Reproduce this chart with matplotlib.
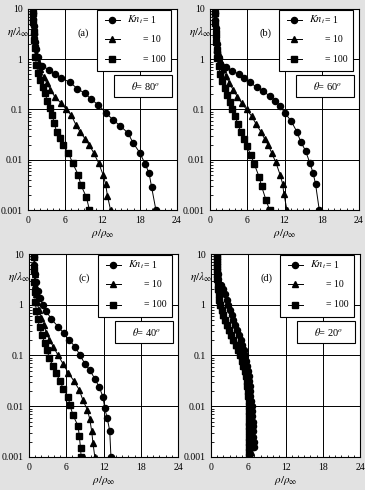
import matplotlib
matplotlib.use("Agg")
import matplotlib.pyplot as plt
from matplotlib.patches import Rectangle
from matplotlib.ticker import FixedLocator, MultipleLocator, LogLocator, NullFormatter

plt.rcParams['font.family'] = ['Liberation Serif', 'DejaVu Serif']
plt.rcParams['mathtext.fontset'] = 'stix'

# --- data: eta/lambda (y) and rho/rho_inf (x) ---
# (a) theta = 80
eta_a1 = [8.3, 6.3, 4.5, 3.2, 2.2, 1.6, 1.12, 0.74, 0.62, 0.50, 0.42, 0.35, 0.26, 0.21, 0.16,
          0.123, 0.085, 0.062, 0.048, 0.034, 0.022, 0.0138, 0.0081, 0.0054, 0.0029, 0.001]
rho_a1 = [0.85, 0.87, 0.9, 0.95, 1.05, 1.25, 1.6, 2.26, 3.39, 4.41, 5.38, 6.72, 7.96, 9.14, 10.2,
          11.3, 12.6, 13.7, 14.8, 16.1, 16.9, 18.0, 18.9, 19.5, 19.9, 20.6]
eta_a2 = [8.3, 5.6, 3.5, 2.5, 1.8, 1.26, 0.85, 0.63, 0.45, 0.34, 0.25, 0.18, 0.135, 0.1, 0.076,
          0.05, 0.036, 0.026, 0.0195, 0.0135, 0.0085, 0.005, 0.0033, 0.0019, 0.001]
rho_a2 = [0.85, 0.87, 0.92, 1.0, 1.15, 1.35, 1.7, 2.0, 2.5, 3.0, 3.6, 4.3, 5.3, 6.2, 7.0,
          7.7, 8.4, 9.2, 9.9, 10.6, 11.4, 12.1, 12.5, 12.8, 13.3]
eta_a3 = [8.3, 5.6, 3.5, 2.4, 1.7, 1.12, 0.76, 0.54, 0.38, 0.28, 0.21, 0.15, 0.107, 0.079, 0.055,
          0.036, 0.0275, 0.0195, 0.0138, 0.0085, 0.005, 0.0032, 0.0018, 0.001]
rho_a3 = [0.85, 0.86, 0.9, 0.95, 1.05, 1.2, 1.35, 1.6, 2.0, 2.35, 2.75, 3.1, 3.5, 3.9, 4.2,
          4.6, 5.2, 5.6, 6.5, 7.2, 8.1, 8.5, 9.4, 9.9]

# (b) theta = 60
eta_b1 = [8.3, 6.0, 4.2, 2.8, 2.0, 1.4, 1.07, 0.81, 0.69, 0.59, 0.51, 0.42, 0.35, 0.275, 0.23,
          0.186, 0.15, 0.115, 0.085, 0.058, 0.036, 0.023, 0.015, 0.0085, 0.0055, 0.0033, 0.001]
rho_b1 = [0.85, 0.87, 0.9, 0.97, 1.05, 1.2, 1.4, 1.6, 2.6, 3.5, 4.6, 5.5, 6.45, 7.5, 8.6,
          9.6, 10.5, 11.3, 12.1, 13.1, 14.0, 14.6, 15.4, 16.1, 16.6, 17.0, 17.6]
eta_b2 = [8.3, 5.6, 3.5, 2.5, 1.8, 1.26, 0.89, 0.63, 0.46, 0.34, 0.25, 0.18, 0.135, 0.1, 0.074,
          0.052, 0.036, 0.026, 0.0195, 0.0135, 0.0089, 0.005, 0.0033, 0.0021, 0.001]
rho_b2 = [0.85, 0.87, 0.92, 1.0, 1.15, 1.4, 1.7, 2.1, 2.6, 3.1, 3.7, 4.4, 5.1, 5.9, 6.7,
          7.4, 8.2, 8.8, 9.4, 9.95, 10.6, 11.3, 11.7, 11.9, 12.4]
eta_b3 = [8.3, 5.2, 3.3, 2.2, 1.5, 1.05, 0.74, 0.52, 0.37, 0.27, 0.19, 0.138, 0.1, 0.074, 0.052,
          0.036, 0.026, 0.019, 0.0123, 0.0081, 0.0046, 0.003, 0.0016, 0.001]
rho_b3 = [0.85, 0.86, 0.9, 0.95, 1.05, 1.2, 1.4, 1.65, 2.0, 2.4, 2.8, 3.2, 3.6, 4.0, 4.5,
          4.95, 5.4, 5.9, 6.6, 7.15, 7.9, 8.3, 9.0, 9.6]

# (c) theta = 40
eta_c1 = [8.9, 6.0, 4.0, 2.8, 1.9, 1.35, 1.0, 0.74, 0.52, 0.37, 0.275, 0.20, 0.15, 0.102, 0.069,
          0.051, 0.035, 0.024, 0.0155, 0.0091, 0.0058, 0.0033, 0.001]
rho_c1 = [0.85, 0.88, 0.95, 1.1, 1.4, 1.8, 2.2, 2.8, 3.6, 4.7, 5.6, 6.5, 7.4, 8.2, 9.0,
          9.8, 10.6, 11.3, 11.9, 12.2, 12.6, 13.0, 13.2]
eta_c2 = [9.3, 6.3, 4.0, 2.5, 1.6, 1.12, 0.79, 0.56, 0.40, 0.28, 0.20, 0.15, 0.1, 0.068, 0.046,
          0.032, 0.021, 0.013, 0.0085, 0.0055, 0.0032, 0.0019, 0.001]
rho_c2 = [0.85, 0.85, 0.9, 0.95, 1.1, 1.3, 1.6, 2.0, 2.4, 2.8, 3.3, 3.9, 4.7, 5.5, 6.3,
          7.2, 8.1, 8.7, 9.4, 9.8, 10.1, 10.3, 10.6]
eta_c3 = [8.9, 4.8, 2.8, 1.8, 1.12, 0.76, 0.52, 0.36, 0.25, 0.178, 0.126, 0.089, 0.063, 0.045, 0.032,
          0.022, 0.0155, 0.0105, 0.0066, 0.0041, 0.0026, 0.0015, 0.001]
rho_c3 = [0.85, 0.85, 0.88, 0.92, 1.0, 1.2, 1.4, 1.7, 2.1, 2.5, 2.9, 3.3, 3.8, 4.3, 5.0,
          5.5, 6.3, 6.6, 7.1, 7.9, 8.1, 8.3, 8.4]

# (d) theta = 20
eta_d = [10, 7.9, 6.3, 5.0, 4.0, 3.2, 2.5, 2.0, 1.6, 1.26, 1.0, 0.79, 0.63, 0.5, 0.4, 0.32, 0.25,
         0.2, 0.16, 0.126, 0.1, 0.079, 0.063, 0.05, 0.04, 0.032, 0.025, 0.02, 0.016, 0.0126, 0.01,
         0.0079, 0.0063, 0.005, 0.004, 0.0032, 0.0025, 0.002, 0.0016, 0.00126, 0.001]
rho_d1 = [0.9, 0.92, 0.95, 1.0, 1.1, 1.2, 1.55, 1.9, 2.2, 2.5, 2.8, 3.1, 3.4, 3.6, 3.9, 4.2, 4.5,
          4.8, 5.0, 5.3, 5.5, 5.7, 5.85, 6.0, 6.1, 6.2, 6.25, 6.3, 6.35, 6.45, 6.55, 6.6, 6.65,
          6.7, 6.75, 6.8, 6.82, 6.85, 6.9]
rho_d2 = [0.9, 0.9, 0.92, 0.95, 1.0, 1.05, 1.12, 1.2, 1.3, 1.4, 1.55, 1.75, 2.0, 2.3, 2.6, 2.9, 3.3,
          3.7, 4.1, 4.5, 4.8, 5.1, 5.35, 5.55, 5.75, 5.9, 6.0, 6.1, 6.2, 6.25, 6.3, 6.35, 6.4,
          6.42, 6.45, 6.47, 6.5, 6.5, 6.5, 6.5, 6.5]
rho_d3 = [0.9, 0.9, 0.91, 0.93, 0.97, 1.02, 1.08, 1.15, 1.25, 1.35, 1.5, 1.7, 1.95, 2.25, 2.55, 2.85,
          3.2, 3.6, 4.0, 4.35, 4.65, 4.95, 5.2, 5.4, 5.6, 5.75, 5.85, 5.95, 6.0, 6.05, 6.1, 6.12,
          6.15, 6.17, 6.2, 6.2, 6.2, 6.2, 6.2, 6.2, 6.2]

panels = [
    ("(a)", "80", [(rho_a1, eta_a1), (rho_a2, eta_a2), (rho_a3, eta_a3)]),
    ("(b)", "60", [(rho_b1, eta_b1), (rho_b2, eta_b2), (rho_b3, eta_b3)]),
    ("(c)", "40", [(rho_c1, eta_c1), (rho_c2, eta_c2), (rho_c3, eta_c3)]),
    ("(d)", "20", [(rho_d1, eta_d[:len(rho_d1)]), (rho_d2, eta_d), (rho_d3, eta_d)]),
]
markers = ['o', '^', 's']
msizes = [4.4, 4.6, 4.2]
leg_kn = r'$Kn_t$'
leg_vals = ['= 1', '= 10', '= 100']

W, H = 365, 490
fig = plt.figure(figsize=(W / 100, H / 100), dpi=100)
fig.patch.set_facecolor('#e2e2e2')

# axes boxes in pixels: left, top, right, bottom
boxes = [(28, 9, 177, 210), (210, 9, 359, 210), (29, 254, 178, 457), (211, 254, 360, 457)]

for (lab, th, series), (l, t, r, b) in zip(panels, boxes):
    ax = fig.add_axes([l / W, 1 - b / H, (r - l) / W, (b - t) / H])
    ax.set_facecolor('white')
    for (x, y), m, ms in zip(series, markers, msizes):
        ax.plot(x, y, color='black', lw=0.7, marker=m, ms=ms, mec='black', mfc='black', zorder=3)
    ax.set_yscale('log')
    ax.set_xlim(0, 24)
    ax.set_ylim(0.001, 10)
    ax.xaxis.set_major_locator(FixedLocator([0, 6, 12, 18, 24]))
    ax.xaxis.set_minor_locator(MultipleLocator(1))
    ax.yaxis.set_major_locator(FixedLocator([0.001, 0.01, 0.1, 1, 10]))
    ax.yaxis.set_minor_locator(LogLocator(base=10, subs=range(2, 10)))
    ax.yaxis.set_minor_formatter(NullFormatter())
    ax.set_yticklabels(['0.001', '0.01', '0.1', '1', '10'])
    ax.set_xticklabels(['0', '6', '12', '18', '24'])
    ax.tick_params(which='both', direction='in', labelsize=7, width=0.6, pad=4)
    ax.tick_params(which='major', length=3)
    ax.tick_params(which='minor', length=1.8)
    ax.tick_params(axis='y', which='both', right=False)
    ax.grid(True, which='major', color='black', lw=0.7)
    for s in ax.spines.values():
        s.set_linewidth(0.8)

    ax.set_xlabel(r'$\rho/\rho_\infty$', fontsize=8, labelpad=2)
    ax.text(-0.065, 0.885, r'$\eta/\lambda_\infty$', transform=ax.transAxes, fontsize=8,
            ha='center', va='center')
    ax.text(0.37, 0.88, lab, transform=ax.transAxes, fontsize=7.5, ha='center', va='center')

    # legend box
    ax.add_patch(Rectangle((0.463, 0.69), 0.497, 0.303, transform=ax.transAxes, fc='white',
                           ec='black', lw=0.8, zorder=5))
    rows = [0.945, 0.85, 0.75]
    for i, (yy, m, ms, txt) in enumerate(zip(rows, markers, msizes, leg_vals)):
        ax.plot([0.517, 0.617], [yy, yy], transform=ax.transAxes, color='black', lw=0.7,
                zorder=6)
        ax.plot([0.567], [yy], transform=ax.transAxes, color='black', marker=m, ms=ms, zorder=6)
        if i == 0:
            ax.text(0.665, yy, leg_kn, transform=ax.transAxes, fontsize=7.5, ha='left',
                    va='center', zorder=6)
        ax.text(0.77, yy, txt, transform=ax.transAxes, fontsize=7, ha='left', va='center',
                zorder=6)

    # theta box
    ax.add_patch(Rectangle((0.577, 0.562), 0.389, 0.11, transform=ax.transAxes, fc='white',
                           ec='black', lw=0.8, zorder=5))
    ax.text(0.79, 0.617, r'$\theta$= ' + th + r'$^o$', transform=ax.transAxes, fontsize=7.5,
            ha='center', va='center', zorder=6)

fig.savefig('out.png', dpi=100, facecolor=fig.get_facecolor())
